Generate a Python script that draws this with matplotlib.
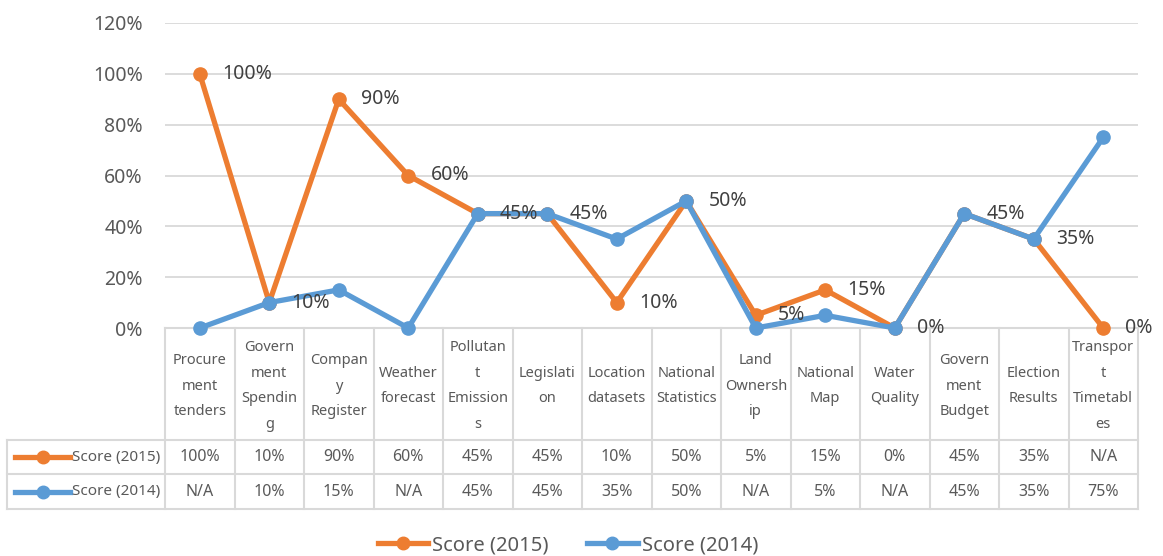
import matplotlib.pyplot as plt
from matplotlib.lines import Line2D

plt.rcParams["font.family"] = ["Noto Sans", "DejaVu Sans"]

# header labels, wrapped the way the table shows them
categories = [
    "Procure\nment\ntenders", "Govern\nment\nSpendin\ng", "Compan\ny\nRegister",
    "Weather\nforecast", "Pollutan\nt\nEmission\ns", "Legislati\non",
    "Location\ndatasets", "National\nStatistics", "Land\nOwnersh\nip",
    "National\nMap", "Water\nQuality", "Govern\nment\nBudget",
    "Election\nResults", "Transpor\nt\nTimetabl\nes",
]
score_2015 = [100, 10, 90, 60, 45, 45, 10, 50, 5, 15, 0, 45, 35, None]
score_2014 = [None, 10, 15, None, 45, 45, 35, 50, None, 5, None, 45, 35, 75]
series_names = ["Score (2015)", "Score (2014)"]
y_ticks = [0, 20, 40, 60, 80, 100, 120]

ORANGE = "#ED7D31"
BLUE = "#5B9BD5"
GRID = "#D9D9D9"
TEXT = "#595959"

W, H = 1163, 556
fig = plt.figure(figsize=(W / 100, H / 100), dpi=100)

# plot area in pixels
L, R, TOP, BASE = 165, 1138, 23, 328
TL, TB = 7, 509
n = len(categories)
col_w = (R - L) / n

# data table below the plot
tax = fig.add_axes([TL / W, (H - TB) / H, (R - TL) / W, (TB - BASE) / H])

def px(p):
    return -0.5 + (p - L) / col_w

tax.set_xlim(px(TL), n - 0.5)
tax.set_ylim(TB, BASE)
tax.axis("off")

row1, row2 = 440, 474
lc = dict(color=GRID, lw=1.5, clip_on=False)
tax.plot([-0.5, n - 0.5], [BASE, BASE], **lc)
for yy in (row1, row2, TB):
    tax.plot([px(TL), n - 0.5], [yy, yy], **lc)
tax.plot([px(TL), px(TL)], [row1, TB], **lc)
for k in range(n + 1):
    tax.plot([k - 0.5, k - 0.5], [BASE, TB], **lc)

for i, name in enumerate(categories):
    tax.text(i, (BASE + row1) / 2 + 2, name, ha="center", va="center", fontsize=10.5,
             color=TEXT, linespacing=1.97)

def cell(v):
    return "N/A" if v is None else f"{v}%"

for vals, color, name, (top, bot) in [(score_2015, ORANGE, series_names[0], (row1, row2)),
                                       (score_2014, BLUE, series_names[1], (row2, TB))]:
    cy = (top + bot) / 2
    tax.plot([px(15), px(70)], [cy, cy], color=color, lw=3.8, clip_on=False)
    tax.plot([(px(15) + px(70)) / 2], [cy], "o", color=color, ms=9, clip_on=False)
    tax.text(px(72), cy, name, ha="left", va="center", fontsize=11, color=TEXT)
    for i, v in enumerate(vals):
        tax.text(i, cy, cell(v), ha="center", va="center", fontsize=11.5, color=TEXT)

# line chart on top of the table
ax = fig.add_axes([L / W, (H - BASE) / H, (R - L) / W, (BASE - TOP) / H])
ax.set_zorder(5)
ax.patch.set_visible(False)
xs = list(range(n))

def plotted(vals):
    # Excel draws N/A text cells as zero
    return [0 if v is None else v / 100 for v in vals]

y15 = plotted(score_2015)
y14 = plotted(score_2014)
ax.plot(xs, y15, color=ORANGE, lw=3.8, marker="o", ms=9.5, zorder=3, clip_on=False)
ax.plot(xs, y14, color=BLUE, lw=3.8, marker="o", ms=9.5, zorder=4, clip_on=False)

for x, y in zip(xs, y15):
    ax.annotate(f"{round(y * 100)}%", (x, y), xytext=(16, 0), textcoords="offset points",
                ha="left", va="center", fontsize=14, color="#404040", zorder=6,
                annotation_clip=False)

ax.set_xlim(-0.5, n - 0.5)
ax.set_ylim(0, 1.2)
ax.set_yticks([t / 100 for t in y_ticks])
ax.set_yticklabels([f"{t}%" for t in y_ticks], fontsize=14, color=TEXT)
ax.tick_params(axis="y", length=0, pad=16)
ax.set_xticks([])
ax.grid(axis="y", color=GRID, lw=1.3)
ax.set_axisbelow(True)
for s in ax.spines.values():
    s.set_visible(False)

handles = [Line2D([], [], color=c, lw=3.8, marker="o", ms=9) for c in (ORANGE, BLUE)]
fig.legend(handles, series_names, loc="center", bbox_to_anchor=(568 / W, 1 - 545 / H),
           ncol=2, frameon=False, fontsize=14.5, labelcolor=TEXT, handlelength=2.5,
           handletextpad=0.2, columnspacing=1.9)

fig.savefig("out.png", dpi=100)
